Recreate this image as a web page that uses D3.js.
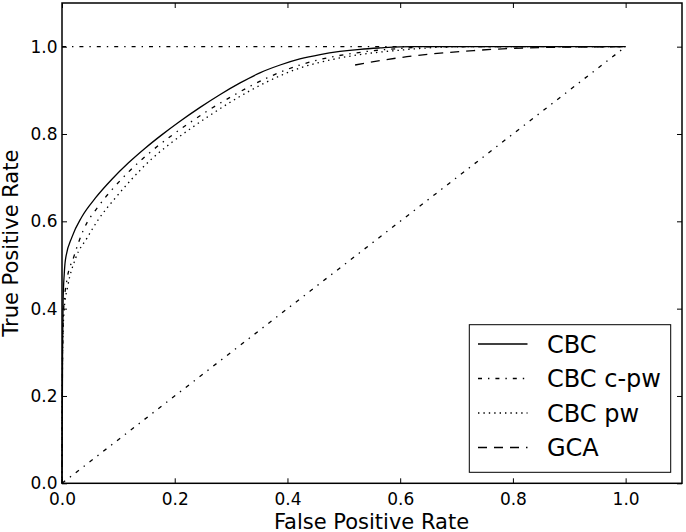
<!DOCTYPE html>
<html>
<head>
<meta charset="utf-8">
<script src="https://cdn.jsdelivr.net/npm/d3@7"></script>
<style>
  body { margin: 0; background: #fff; }
  text { font-family: "DejaVu Sans", sans-serif; fill: #000; }
</style>
</head>
<body>
<svg id="chart" width="686" height="532"></svg>
<script>
// ROC curves
const fprCBC = [0, 0.001, 0.002, 0.004, 0.006, 0.018, 0.035, 0.059, 0.089, 0.118, 0.148, 0.177, 0.207, 0.245, 0.28, 0.316, 0.351, 0.387, 0.422, 0.458, 0.493, 0.529, 0.564, 0.62, 1.0];
const tprCBC = [0, 0.3, 0.42, 0.48, 0.511, 0.565, 0.61, 0.653, 0.697, 0.734, 0.768, 0.798, 0.827, 0.861, 0.89, 0.917, 0.94, 0.958, 0.972, 0.982, 0.989, 0.994, 0.997, 1.0, 1.0];

const fprCpw = [0, 0.001, 0.003, 0.008, 0.021, 0.038, 0.065, 0.089, 0.118, 0.16, 0.195, 0.228, 0.257, 0.301, 0.363, 0.422, 0.481, 0.541, 0.6, 0.66, 1.0];
const tprCpw = [0, 0.3, 0.4, 0.46, 0.519, 0.58, 0.635, 0.673, 0.713, 0.762, 0.797, 0.827, 0.852, 0.886, 0.928, 0.958, 0.977, 0.989, 0.996, 1.0, 1.0];

const fprPw = [0, 0.001, 0.004, 0.01, 0.024, 0.044, 0.065, 0.095, 0.124, 0.16, 0.195, 0.231, 0.257, 0.304, 0.363, 0.422, 0.481, 0.541, 0.6, 0.66, 0.72, 1.0];
const tprPw = [0, 0.3, 0.4, 0.45, 0.515, 0.561, 0.605, 0.654, 0.697, 0.744, 0.781, 0.815, 0.838, 0.877, 0.919, 0.951, 0.971, 0.984, 0.992, 0.998, 1.0, 1.0];

const fprGCA = [0.52, 0.564, 0.612, 0.73, 0.848, 1.0];
const tprGCA = [0.958, 0.968, 0.977, 0.991, 0.998, 1.0];

// reference lines (perfect classifier and chance)
const fprPerfect = [0, 1];
const tprPerfect = [1, 1];
const fprChance = [0, 1];
const tprChance = [0, 1];

const legendLabels = ["CBC", "CBC c-pw", "CBC pw", "GCA"];
const tickValues = [0, 0.2, 0.4, 0.6, 0.8, 1.0];

const DASH = {
    solid: null,
    dashdot: "4,6,1.4,6",
    dotted: "1.4,4",
    dashed: "9,7"
};

const svg = d3.select("#chart");
const plotL = 62, plotR = 682, plotT = 3, plotB = 483.3;

const x = d3.scaleLinear().domain([0, 1.1]).range([plotL, plotR]);
const y = d3.scaleLinear().domain([0, 1.1]).range([plotB, plotT]);

const zip = (xs, ys) => xs.map((v, i) => [v, ys[i]]);

const series = [
    { pts: zip(fprPerfect, tprPerfect), dash: DASH.dashdot, curve: d3.curveLinear },
    { pts: zip(fprChance, tprChance), dash: DASH.dashdot, curve: d3.curveLinear },
    { pts: zip(fprGCA, tprGCA), dash: DASH.dashed, curve: d3.curveMonotoneX },
    { pts: zip(fprPw, tprPw), dash: DASH.dotted, curve: d3.curveMonotoneX },
    { pts: zip(fprCpw, tprCpw), dash: DASH.dashdot, curve: d3.curveMonotoneX },
    { pts: zip(fprCBC, tprCBC), dash: DASH.solid, curve: d3.curveMonotoneX }
];

const plot = svg.append("g");
series.forEach(s => {
    const line = d3.line().x(d => x(d[0])).y(d => y(d[1])).curve(s.curve);
    plot.append("path")
        .attr("d", line(s.pts))
        .attr("fill", "none")
        .attr("stroke", "#000")
        .attr("stroke-width", 1.3)
        .attr("stroke-dasharray", s.dash);
});

// axes, ticks pointing inward on all four sides
const fmt = d3.format(".1f");
const styleAxis = g => {
    g.select(".domain").remove();
    g.selectAll(".tick line").attr("stroke", "#000").attr("stroke-width", 1);
    g.selectAll("text").style("font-size", "17px").attr("fill", "#000");
};
svg.append("g").attr("transform", `translate(0,${plotB})`)
    .call(d3.axisBottom(x).tickValues(tickValues).tickFormat(fmt).tickSize(-5).tickPadding(9.5))
    .call(styleAxis);
svg.append("g").attr("transform", `translate(${plotL},0)`)
    .call(d3.axisLeft(y).tickValues(tickValues).tickFormat(fmt).tickSize(-5).tickPadding(4.5))
    .call(styleAxis);
svg.append("g").attr("transform", `translate(0,${plotT})`)
    .call(d3.axisTop(x).tickValues(tickValues).tickFormat("").tickSize(-5))
    .call(styleAxis);
svg.append("g").attr("transform", `translate(${plotR},0)`)
    .call(d3.axisRight(y).tickValues(tickValues).tickFormat("").tickSize(-5))
    .call(styleAxis);

svg.append("rect")
    .attr("x", plotL).attr("y", plotT)
    .attr("width", plotR - plotL).attr("height", plotB - plotT)
    .attr("fill", "none").attr("stroke", "#000").attr("stroke-width", 1.5);

// axis titles
svg.append("text")
    .attr("x", (plotL + plotR) / 2 - 0.5).attr("y", 528.5)
    .attr("text-anchor", "middle")
    .style("font-size", "21px")
    .text("False Positive Rate");
svg.append("text")
    .attr("transform", `translate(18,${(plotT + plotB) / 2}) rotate(-90)`)
    .attr("text-anchor", "middle")
    .style("font-size", "21px")
    .text("True Positive Rate");

// legend
const legendDash = [DASH.solid, DASH.dashdot, DASH.dotted, DASH.dashed];
const lg = svg.append("g");
lg.append("rect")
    .attr("x", 469.3).attr("y", 324.7)
    .attr("width", 201.4).attr("height", 147.6)
    .attr("fill", "#fff").attr("stroke", "#000").attr("stroke-width", 1);
legendLabels.forEach((lab, i) => {
    const cy = 344 + i * 34.5;
    lg.append("line")
        .attr("x1", 478).attr("x2", 527.5)
        .attr("y1", cy).attr("y2", cy)
        .attr("stroke", "#000").attr("stroke-width", 1.3)
        .attr("stroke-dasharray", legendDash[i]);
    lg.append("text")
        .attr("x", 547).attr("y", cy + 8.7)
        .style("font-size", "24px")
        .text(lab);
});
</script>
</body>
</html>
